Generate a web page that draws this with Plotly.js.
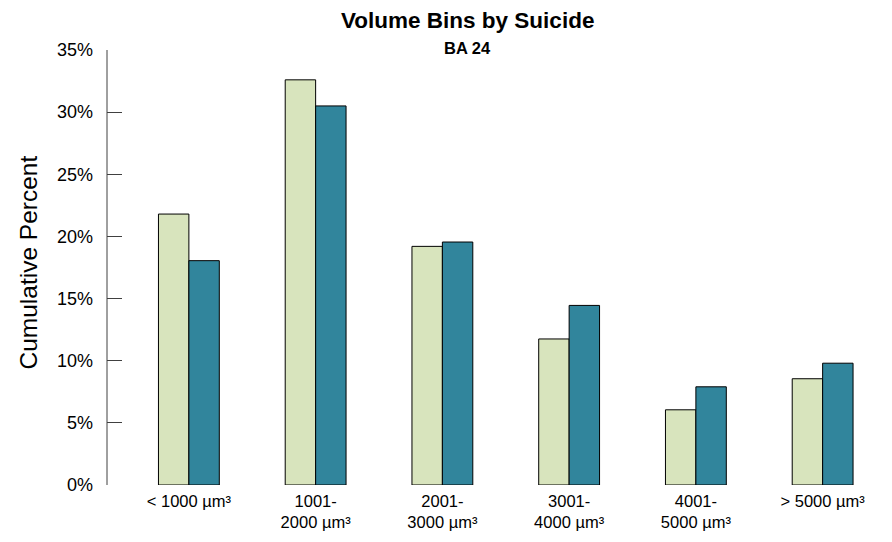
<!DOCTYPE html>
<html>
<head>
<meta charset="utf-8">
<script src="https://cdn.plot.ly/plotly-3.0.1.min.js"></script>
<style>
  html, body { margin: 0; padding: 0; background: #ffffff; }
  #chart { width: 892px; height: 542px; }
</style>
</head>
<body>
<div id="chart"></div>
<script>
// Volume bins (µm³) and cumulative percent per group
const categories = ["< 1000 µm³", "1001-<br>2000 µm³", "2001-<br>3000 µm³", "3001-<br>4000 µm³", "4001-<br>5000 µm³", "> 5000 µm³"];
const groupA = [21.8, 32.6, 19.2, 11.75, 6.05, 8.55];
const groupB = [18.05, 30.5, 19.55, 14.45, 7.9, 9.8];
const yTickVals = [0, 5, 10, 15, 20, 25, 30, 35];
const yTickText = ["0%", "5%", "10%", "15%", "20%", "25%", "30%", "35%"];

const font = "Liberation Sans, Arial, sans-serif";
const xIdx = categories.map((_, i) => i);

const traces = [
  {
    type: "bar", x: xIdx, y: groupA, name: "A",
    marker: { color: "#d8e4bd", line: { color: "#000000", width: 1 } },
    hoverinfo: "y"
  },
  {
    type: "bar", x: xIdx, y: groupB, name: "B",
    marker: { color: "#31859c", line: { color: "#000000", width: 1 } },
    hoverinfo: "y"
  }
];

const layout = {
  width: 892, height: 542,
  paper_bgcolor: "#ffffff", plot_bgcolor: "#ffffff",
  margin: { l: 107, r: 6, t: 50, b: 57 },
  showlegend: false,
  barmode: "group",
  bargap: 0.52,
  bargroupgap: 0,
  font: { family: font, color: "#000000" },
  xaxis: {
    range: [-0.646, 5.5],
    tickmode: "array", tickvals: xIdx, ticktext: categories,
    showline: false, showgrid: false, zeroline: false, ticks: "",
    tickfont: { family: font, size: 16.5, color: "#000000" },
    ticklabelstandoff: 4,
    automargin: false,
    fixedrange: true
  },
  yaxis: {
    range: [0, 35],
    tickmode: "array", tickvals: yTickVals, ticktext: yTickText,
    showline: false,
    ticks: "inside", ticklen: 15, tickcolor: "#404040", tickwidth: 1,
    showgrid: false, zeroline: false,
    tickfont: { family: font, size: 18, color: "#000000" },
    ticklabelstandoff: 13,
    automargin: false,
    fixedrange: true
  },
  // vertical value-axis line, spanning exactly the plot height
  shapes: [
    { type: "line", xref: "paper", yref: "paper", x0: 0, x1: 0, y0: 0, y1: 1,
      line: { color: "#404040", width: 1 }, layer: "above" }
  ],
  annotations: [
    { text: "<b>Volume Bins by Suicide</b>", xref: "paper", yref: "paper",
      x: 0.463, y: 1, yshift: 30, xanchor: "center", yanchor: "middle",
      showarrow: false, font: { family: font, size: 22.5, color: "#000000" } },
    { text: "<b>BA 24</b>", xref: "paper", yref: "paper",
      x: 0.463, y: 1, yshift: 2, xanchor: "center", yanchor: "middle",
      showarrow: false, font: { family: font, size: 16.5, color: "#000000" } },
    { text: "Cumulative Percent", xref: "paper", yref: "paper",
      x: 0, xshift: -79, y: 0.5, yshift: 5, textangle: -90,
      xanchor: "center", yanchor: "middle",
      showarrow: false, font: { family: font, size: 24.5, color: "#000000" } }
  ]
};

Plotly.newPlot("chart", traces, layout, { displayModeBar: false, staticPlot: true });
</script>
</body>
</html>
